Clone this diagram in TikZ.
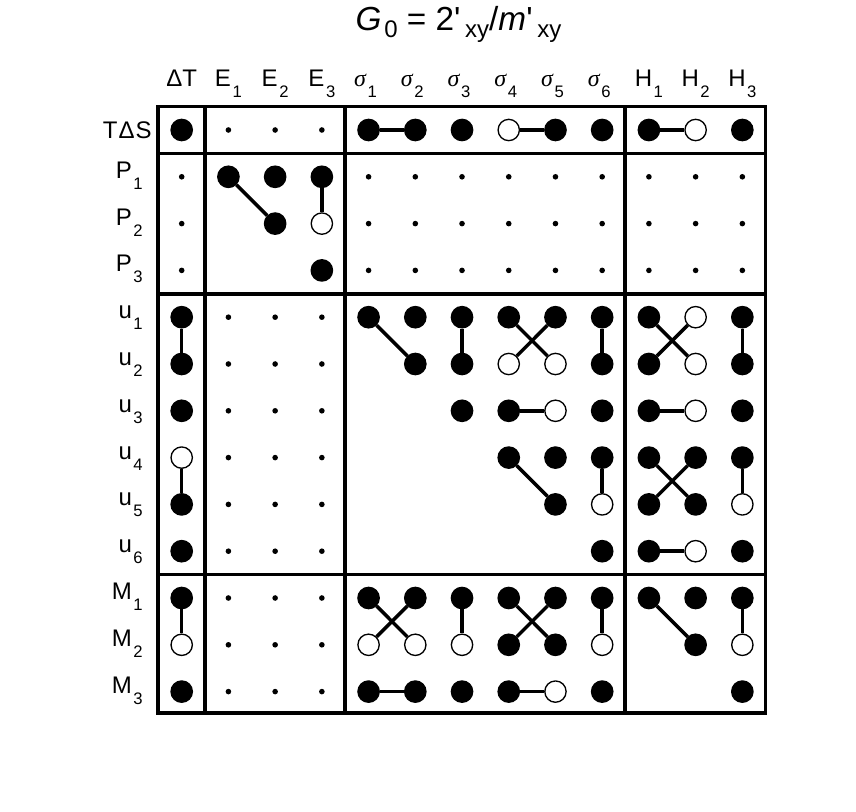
\documentclass[tikz,border=0pt]{standalone}
\usepackage{fontspec}
\setmainfont{Liberation Sans}
\newfontfamily\sigfont{Liberation Serif}
\usetikzlibrary{backgrounds}
\newcommand\lsub[1]{\kern1.2pt\raisebox{-8.2pt}{\fontsize{12.5}{12.5}\selectfont #1}}
\newcommand\tsub[1]{\kern0.5pt\raisebox{-5pt}{\fontsize{18}{18}\selectfont #1}}
\newcommand\sig{{\sigfont\itshape σ}}
\begin{document}
\begin{tikzpicture}[x=0.75pt,y=-0.75pt,
  cellF/.style={circle,draw=black,fill=black,line width=1pt,minimum size=16pt,inner sep=0pt},
  cellO/.style={cellF,fill=white},
  cellD/.style={circle,fill=black,minimum size=4.2pt,inner sep=0pt},
  conn/.style={line width=2.6pt},
  frame/.style={line width=2.8pt},
  lab/.style={font=\fontsize{18}{18}\selectfont, inner sep=0pt},
  ttl/.style={font=\fontsize{25}{25}\selectfont, inner sep=0pt}]
\useasboundingbox (0,0) rectangle (856,812);
% title
\node[ttl,anchor=base] (title) at (458.5,31) {{\itshape G}\kern1.5pt\tsub{0} = 2\textquotesingle\kern3pt\tsub{xy}/{\itshape m}\textquotesingle\kern3pt\tsub{xy}};
% column headers
\node[lab,anchor=base] (h0) at (181.7,86.5) {ΔT};
\foreach \c/\t/\dx in {1/E\lsub{1}/0,2/E\lsub{2}/0,3/E\lsub{3}/0,4/\sig\lsub{1}/-3,5/\sig\lsub{2}/-3,6/\sig\lsub{3}/-3,7/\sig\lsub{4}/-3,8/\sig\lsub{5}/-3,9/\sig\lsub{6}/-3,10/H\lsub{1}/0,11/H\lsub{2}/0,12/H\lsub{3}/0}
  \node[lab,anchor=base] (h\c) at ({181.7+46.72*\c+\dx},86.5) {\t};
% row labels
\node[lab,anchor=base east] (r0) at (152,138.3) {T\kern0.8ptΔ\kern0.8ptS};
\foreach \r/\t in {1/P\lsub{1},2/P\lsub{2},3/P\lsub{3},4/u\lsub{1},5/u\lsub{2},6/u\lsub{3},7/u\lsub{4},8/u\lsub{5},9/u\lsub{6},10/M\lsub{1},11/M\lsub{2},12/M\lsub{3}}
  \node[lab,anchor=base east] (r\r) at (143,{130+46.8*\r+1.5}) {\t};
% cells
\foreach \r/\row in {
  0/{F,D,D,D,F,F,F,O,F,F,F,O,F},
  1/{D,F,F,F,D,D,D,D,D,D,D,D,D},
  2/{D,x,F,O,D,D,D,D,D,D,D,D,D},
  3/{D,x,x,F,D,D,D,D,D,D,D,D,D},
  4/{F,D,D,D,F,F,F,F,F,F,F,O,F},
  5/{F,D,D,D,x,F,F,O,O,F,F,O,F},
  6/{F,D,D,D,x,x,F,F,O,F,F,O,F},
  7/{O,D,D,D,x,x,x,F,F,F,F,F,F},
  8/{F,D,D,D,x,x,x,x,F,O,F,F,O},
  9/{F,D,D,D,x,x,x,x,x,F,F,O,F},
  10/{F,D,D,D,F,F,F,F,F,F,F,F,F},
  11/{O,D,D,D,O,O,O,F,F,O,x,F,O},
  12/{F,D,D,D,F,F,F,F,O,F,x,x,F}}
{
  \foreach \t [count=\c from 0] in \row {
    \if x\t \else
      \node[cell\t] (n-\r-\c) at ({181.7+46.72*\c},{130+46.8*\r}) {};
    \fi
  }
}
% connectors
\begin{scope}[on background layer]
\foreach \a/\b in {0-4/0-5,0-7/0-8,0-10/0-11,
  1-1/2-2,1-3/2-3,
  4-0/5-0,4-4/5-5,4-6/5-6,4-7/5-8,4-8/5-7,4-9/5-9,4-10/5-11,4-11/5-10,4-12/5-12,
  6-7/6-8,6-10/6-11,
  7-0/8-0,7-7/8-8,7-9/8-9,7-10/8-11,7-11/8-10,7-12/8-12,
  9-10/9-11,
  10-0/11-0,10-4/11-5,10-5/11-4,10-6/11-6,10-7/11-8,10-8/11-7,10-9/11-9,10-10/11-11,10-12/11-12,
  12-4/12-5,12-7/12-8}
  \draw[conn] (n-\a) -- (n-\b);
\end{scope}
% frame
\draw[frame] (158,106.5) rectangle (765.5,713);
\foreach \x in {205,345.3,625}
  \draw[frame] (\x,106.5) -- (\x,713);
\foreach \y in {153.4,293.8,574.6}
  \draw[frame] (158,\y) -- (765.5,\y);
\end{tikzpicture}
\end{document}
